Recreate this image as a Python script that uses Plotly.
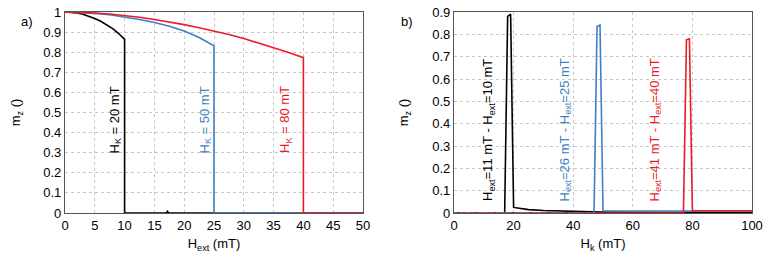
import plotly.graph_objects as go

# ---- panel a) data: m_z vs H_ext ----
a_black_x = [0, 1, 2, 3, 4, 5, 6, 7, 8, 9, 10, 10, 17, 17.2, 17.4, 50]
a_black_y = [1, 0.999, 0.995, 0.989, 0.98, 0.968, 0.954, 0.937, 0.917, 0.893, 0.864, 0, 0, 0.008, 0, 0]
a_blue_x = [0, 2.5, 5, 7.5, 10, 12.5, 15, 17.5, 20, 22.5, 25, 25, 50]
a_blue_y = [1, 0.998, 0.993, 0.986, 0.976, 0.963, 0.948, 0.929, 0.905, 0.873, 0.832, 0, 0]
a_red_x = [0, 2.5, 5, 7.5, 10, 12.5, 15, 17.5, 20, 22.5, 25, 27.5, 30, 32.5, 35, 37.5, 40, 40, 50]
a_red_y = [1, 0.998, 0.995, 0.99, 0.983, 0.974, 0.963, 0.951, 0.937, 0.922, 0.906, 0.888, 0.868,
           0.846, 0.822, 0.798, 0.773, 0, 0]

# ---- panel b) data: m_z vs H_k ----
b_black_x = [0, 17, 18, 19, 20, 25, 30, 40, 50, 60, 70, 80, 90, 100]
b_black_y = [0, 0, 0.88, 0.89, 0.025, 0.015, 0.011, 0.006, 0.004, 0.003, 0.003, 0.002, 0.002, 0.002]
b_blue_x = [0, 47, 48, 49, 50, 60, 70, 80, 90, 100]
b_blue_y = [0, 0, 0.835, 0.842, 0.01, 0.009, 0.009, 0.009, 0.009, 0.009]
b_red_x = [0, 77, 78, 79, 80, 90, 100]
b_red_y = [0, 0, 0.775, 0.78, 0.01, 0.01, 0.01]
b_zero_red_x = [0, 77]
b_zero_blue_x = [0, 47]

a_labels = ["H<sub>K</sub> = 20 mT", "H<sub>K</sub> = 50 mT", "H<sub>K</sub> = 80 mT"]
b_labels = ["H<sub>ext</sub>=11 mT - H<sub>ext</sub>=10 mT",
            "H<sub>ext</sub>=26 mT - H<sub>ext</sub>=25 mT",
            "H<sub>ext</sub>=41 mT - H<sub>ext</sub>=40 mT"]

BLACK = "#000000"
BLUE = "#3f7fc3"
RED = "#ec1c24"
FONT = "Liberation Sans, Arial, sans-serif"

fig = go.Figure()
for x, y, c in [(a_black_x, a_black_y, BLACK), (a_blue_x, a_blue_y, BLUE), (a_red_x, a_red_y, RED)]:
    fig.add_trace(go.Scatter(x=x, y=y, mode="lines", line=dict(color=c, width=1.6),
                             xaxis="x", yaxis="y", showlegend=False))

fig.add_trace(go.Scatter(x=b_black_x, y=b_black_y, mode="lines", line=dict(color=BLACK, width=1.6),
                         xaxis="x2", yaxis="y2", showlegend=False))
fig.add_trace(go.Scatter(x=b_blue_x, y=b_blue_y, mode="lines", line=dict(color=BLUE, width=1.6),
                         xaxis="x2", yaxis="y2", showlegend=False))
fig.add_trace(go.Scatter(x=b_red_x, y=b_red_y, mode="lines", line=dict(color=RED, width=1.6),
                         xaxis="x2", yaxis="y2", showlegend=False))
fig.add_trace(go.Scatter(x=b_zero_red_x, y=[0, 0], mode="lines", line=dict(color="#b01020", width=1.6, dash="dash"),
                         xaxis="x2", yaxis="y2", showlegend=False))
fig.add_trace(go.Scatter(x=b_zero_blue_x, y=[0, 0], mode="lines", line=dict(color="#5080b0", width=1.4, dash="dot"),
                         xaxis="x2", yaxis="y2", showlegend=False))

W, H = 770, 258
def px(x):
    return x / W
def py(y):
    return 1 - y / H

ax_common = dict(showline=True, mirror=True, linecolor="#555555", linewidth=1.2,
                 showgrid=True, gridcolor="#c8c8c8", griddash="dot", gridwidth=1,
                 zeroline=False, ticks="", tickfont=dict(size=13, color="#000"),
                 title_font=dict(size=13, color="#000"), automargin=False)

fig.update_layout(
    width=W, height=H, margin=dict(l=0, r=0, t=0, b=0),
    paper_bgcolor="white", plot_bgcolor="white",
    font=dict(family=FONT, size=13, color="#000"),
    xaxis=dict(domain=[px(65), px(363)], range=[0, 50], dtick=5, anchor="y",
               title=dict(text="H<sub>ext</sub> (mT)", standoff=7), **ax_common),
    yaxis=dict(domain=[py(213), py(12)], range=[0, 1], dtick=0.1, anchor="x",
               tickvals=[0, 0.1, 0.2, 0.3, 0.4, 0.5, 0.6, 0.7, 0.8, 0.9, 1],
               ticktext=["0", "0.1", "0.2", "0.3", "0.4", "0.5", "0.6", "0.7", "0.8", "0.9", "1"],
               title=dict(text="m<sub>z</sub> ()", standoff=19), **ax_common),
    xaxis2=dict(domain=[px(454), px(752)], range=[0, 100], dtick=20, anchor="y2",
                title=dict(text="H<sub>k</sub> (mT)", standoff=7), **ax_common),
    yaxis2=dict(domain=[py(213), py(12)], range=[0, 0.9], dtick=0.1, anchor="x2",
                title=dict(text="m<sub>z</sub> ()", standoff=20), **ax_common),
)

annots = []
annots.append(dict(text="a)", x=px(19), y=py(12), xref="paper", yref="paper", showarrow=False,
                   font=dict(size=13)))
annots.append(dict(text="b)", x=px(407), y=py(12), xref="paper", yref="paper", showarrow=False,
                   font=dict(size=13)))
for t, xc, c in zip(a_labels, [105, 195, 286], [BLACK, BLUE, RED]):
    annots.append(dict(text=t, x=px(xc), y=py(120), xref="paper", yref="paper", showarrow=False,
                       textangle=-90, font=dict(size=13, color=c)))
for t, xc, c in zip(b_labels, [488, 575, 665], [BLACK, BLUE, RED]):
    annots.append(dict(text=t, x=px(xc), y=py(130), xref="paper", yref="paper", showarrow=False,
                       textangle=-90, font=dict(size=13, color=c)))
fig.update_layout(annotations=annots)

fig.write_html("out.html", config={"displayModeBar": False},
               post_script="document.body.style.margin='0';document.body.style.padding='0';")
